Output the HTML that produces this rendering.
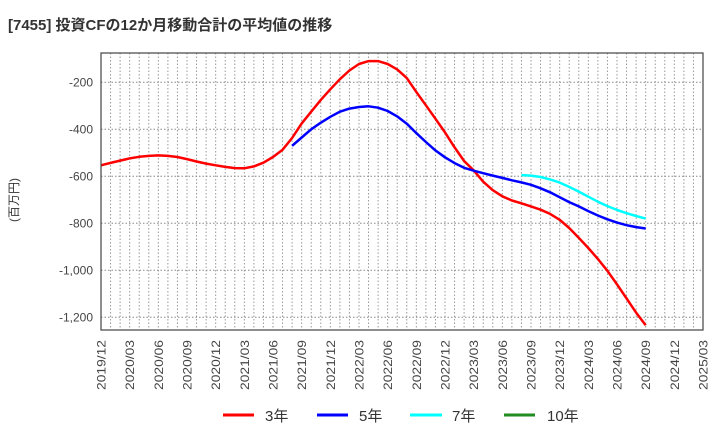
<!DOCTYPE html>
<html><head><meta charset="utf-8"><style>
body{margin:0;background:#fff;}
svg text{font-family:"Liberation Sans","Noto Sans CJK JP",sans-serif;}
</style></head><body>
<svg id="c" width="720" height="440" xmlns="http://www.w3.org/2000/svg">
<text x="8" y="30" font-size="15" font-weight="bold" fill="#333">[7455]  投資CFの12か月移動合計の平均値の推移</text>
<text transform="translate(18,200) rotate(-90)" font-size="12" fill="#333" text-anchor="middle">(百万円)</text>
<g id="grid"></g><g id="series"></g><g id="axes"></g>
<g>
<line x1="223" y1="415" x2="254" y2="415" stroke="#ff0000" stroke-width="3"/><text x="265" y="421" font-size="15" fill="#333">3年</text>
<line x1="317" y1="415" x2="348" y2="415" stroke="#0000ff" stroke-width="3"/><text x="359" y="421" font-size="15" fill="#333">5年</text>
<line x1="410" y1="415" x2="442" y2="415" stroke="#00ffff" stroke-width="3"/><text x="452" y="421" font-size="15" fill="#333">7年</text>
<line x1="504" y1="415" x2="535" y2="415" stroke="#228b22" stroke-width="3"/><text x="547" y="421" font-size="15" fill="#333">10年</text>
</g>
</svg>
<script>
const xLabels=["2019/12","2020/03","2020/06","2020/09","2020/12","2021/03","2021/06","2021/09","2021/12","2022/03","2022/06","2022/09","2022/12","2023/03","2023/06","2023/09","2023/12","2024/03","2024/06","2024/09","2024/12","2025/03"];
const yTicks=[-200,-400,-600,-800,-1000,-1200];
const yTickLabels=["-200","-400","-600","-800","-1,000","-1,200"];
const red=[-553,-543,-533,-524,-517,-513,-511,-513,-518,-527,-537,-546,-553,-560,-565,-566,-558,-542,-518,-487,-437,-375,-325,-275,-230,-187,-150,-122,-110,-110,-122,-145,-182,-241,-298,-355,-413,-477,-535,-575,-623,-659,-685,-703,-715,-728,-742,-760,-785,-820,-862,-905,-952,-1002,-1060,-1120,-1180,-1234];
const redStart=0;
const blue=[-470,-435,-400,-372,-347,-325,-312,-305,-302,-308,-322,-345,-376,-416,-454,-490,-519,-544,-564,-576,-587,-597,-607,-617,-626,-636,-651,-668,-689,-710,-728,-748,-767,-783,-797,-808,-816,-822];
const blueStart=20;
const cyan=[-595,-597,-603,-613,-627,-645,-665,-687,-708,-727,-743,-757,-769,-780];
const cyanStart=44;
const L=101,R=703,T=53,B=330,months=63;
const xs=i=>L+(R-L)*i/months;
const ys=v=>82.3+(v-(-200))*(-47/200);
const NS="http://www.w3.org/2000/svg";
function mk(p,t,a){const e=document.createElementNS(NS,t);for(const k in a)e.setAttribute(k,a[k]);p.appendChild(e);return e;}
const grid=document.getElementById('grid'),axes=document.getElementById('axes'),ser=document.getElementById('series');
for(let i=1;i<months;i++){const l=mk(grid,'line',{x1:xs(i),x2:xs(i),y1:T,y2:B,stroke:'#999','stroke-width':1,'stroke-dasharray':'1.5,2'});

}
yTicks.forEach((v,k)=>{const l=mk(grid,'line',{x1:L,x2:R,y1:ys(v),y2:ys(v),stroke:'#888','stroke-width':1,'stroke-dasharray':'1.5,2'});


const t=mk(axes,'text',{x:L-8,y:ys(v)+4,'font-size':12,fill:'#444','text-anchor':'end'});t.textContent=yTickLabels[k];

});
xLabels.forEach((s,k)=>{const x=xs(k*3);const t=mk(axes,'text',{transform:`translate(${x+4.5},${B+10}) rotate(-90)`,'font-size':12,fill:'#444','text-anchor':'end',textLength:50,lengthAdjust:'spacingAndGlyphs'});t.textContent=s;

});
const fr=mk(axes,'rect',{x:L,y:T,width:R-L,height:B-T,fill:'none',stroke:'#444','stroke-width':1.2});


function line(arr,start,col,name){const d=arr.map((v,i)=>(i?'L':'M')+xs(start+i).toFixed(1)+','+ys(v).toFixed(1)).join('');
const p=mk(ser,'path',{d:d,fill:'none',stroke:col,'stroke-width':2.5,'stroke-linejoin':'round'});

}
line(red,redStart,'#ff0000','series-3y');
line(blue,blueStart,'#0000ff','series-5y');
line(cyan,cyanStart,'#00ffff','series-7y');
</script>
</body></html>
